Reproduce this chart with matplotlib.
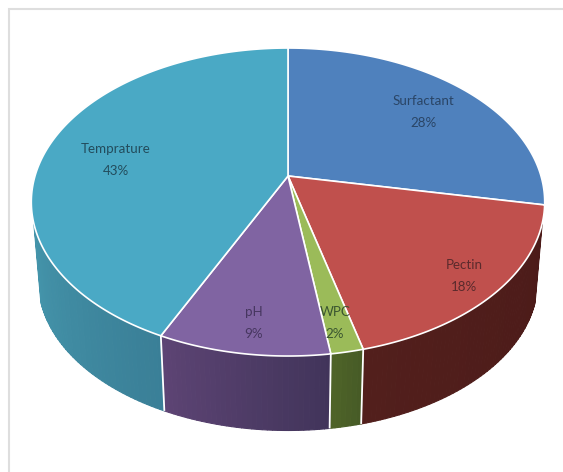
import numpy as np
import matplotlib
matplotlib.use("Agg")
import matplotlib.pyplot as plt

categories = ["Surfactant", "Pectin", "WPC", "pH", "Temprature"]
shares = [28, 18, 1.75, 9.25, 43]

top_colors = ["#4f81bd", "#c0504d", "#9bbb59", "#8064a2", "#4aa9c5"]
# side shades, from the clockwise start of each wedge to its end
side_start = ["#3a6190", "#4c1b19", "#465a26", "#41345a", "#3a7f97"]
side_end = ["#3a6190", "#521f1c", "#4f6428", "#5d4474", "#4494aa"]
text_colors = ["#2a4566", "#5a2a2c", "#3a5530", "#46365f", "#234c5c"]
label_xy = [(423, 101), (464, 265), (335, 312), (254, 312), (116, 149)]
line_gap = 22

W, H = 563, 472
plt.rcParams["font.family"] = ["Lato", "DejaVu Sans"]
fig = plt.figure(figsize=(W / 100, H / 100), dpi=100)
ax = fig.add_axes([0, 0, 1, 1])
ax.set_xlim(0, W)
ax.set_ylim(H, 0)
ax.axis("off")


def rim(theta, cx, cy, a, b, k=0.169):
    """Perspective projection of a horizontal circle; theta clockwise from 12 o'clock."""
    u, v = np.sin(theta), -np.cos(theta)
    s = 1 / (1 - k * v)
    return cx + a * u * s, cy + b * v * s


TOP = dict(cx=288, cy=176, a=253, b=149.6)
BOT = dict(cx=288, cy=256, a=246, b=145)

# frame of the pasted picture
ax.plot([9, 9, W], [H, 9, 9], color="#dedede", lw=1.5, solid_joinstyle="miter")

cum = np.cumsum([0] + shares) / sum(shares) * 2 * np.pi
vis_lo, vis_hi = np.radians(107.5), np.radians(252.5)

# sides
for i in range(len(shares)):
    lo, hi = max(cum[i], vis_lo), min(cum[i + 1], vis_hi)
    if hi <= lo:
        continue
    c0 = np.array(matplotlib.colors.to_rgb(side_start[i]))
    c1 = np.array(matplotlib.colors.to_rgb(side_end[i]))
    n = max(int(np.degrees(hi - lo)), 2)
    edges = np.linspace(lo, hi, n + 1)
    for j in range(n):
        t = np.linspace(edges[j], edges[j + 1], 4)
        xt, yt = rim(t, **TOP)
        xb, yb = rim(t, **BOT)
        f = (j + 0.5) / n
        col = c0 * (1 - f) + c1 * f
        ax.fill(np.r_[xt, xb[::-1]], np.r_[yt, yb[::-1]], facecolor=col,
                edgecolor=col, lw=0.8, joinstyle="round")

# seams on the side
for i in range(1, len(shares)):
    if vis_lo < cum[i] < vis_hi:
        xt, yt = rim(cum[i], **TOP)
        xb, yb = rim(cum[i], **BOT)
        ax.plot([xt, xb], [yt, yb], color="white", lw=1.3, solid_capstyle="butt")

# top face
for i in range(len(shares)):
    t = np.linspace(cum[i], cum[i + 1], 200)
    x, y = rim(t, **TOP)
    ax.fill(np.r_[TOP["cx"], x], np.r_[TOP["cy"], y], facecolor=top_colors[i],
            edgecolor="white", lw=1.2, joinstyle="round")

# labels
for name, share, (lx, ly), tc in zip(categories, shares, label_xy, text_colors):
    ax.text(lx, ly, name, ha="center", va="center", fontsize=9.6, color=tc)
    ax.text(lx, ly + line_gap, f"{round(share)}%", ha="center", va="center", fontsize=9.6, color=tc)

fig.savefig("out.png", dpi=100, facecolor="white")
